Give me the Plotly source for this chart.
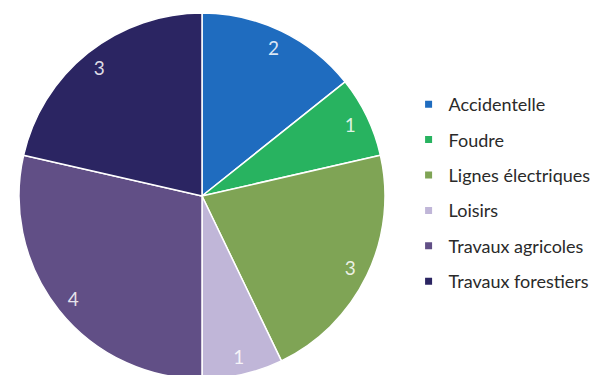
import plotly.graph_objects as go

labels = ["Accidentelle", "Foudre", "Lignes électriques", "Loisirs", "Travaux agricoles", "Travaux forestiers"]
values = [2, 1, 3, 1, 4, 3]
colors = ["#1f6cbf", "#28b360", "#7fa455", "#c0b6d8", "#614f86", "#2b2562"]

W, H = 597, 375
dom = dict(x=[11/W, 377/W], y=[4/H, 370/H])

fig = go.Figure()
# filled slices
fig.add_trace(go.Pie(
    labels=labels, values=values, sort=False, direction="clockwise", rotation=0,
    marker=dict(colors=colors, line=dict(color="white", width=1.5)),
    textinfo="none", showlegend=False, domain=dom,
))
# value labels placed in an outer ring (transparent) so they sit near the rim
fig.add_trace(go.Pie(
    labels=labels, values=values, sort=False, direction="clockwise", rotation=0,
    hole=0.8,
    marker=dict(colors=["rgba(0,0,0,0)"] * len(values), line=dict(width=0)),
    textinfo="value", textposition="inside", insidetextorientation="horizontal",
    textfont=dict(family="Lato", size=19, color="rgba(255,255,255,0.85)"),
    showlegend=False, hoverinfo="skip", domain=dom,
))
for i, (lab, col) in enumerate(zip(labels, colors)):
    fig.add_trace(go.Scatter(
        x=[None], y=[None], mode="markers", name=lab,
        marker=dict(symbol="square", size=7, color=col),
        legendgroup=f"g{i}", showlegend=True,
    ))

fig.update_layout(
    width=W, height=H,
    margin=dict(l=0, r=0, t=0, b=0),
    paper_bgcolor="white", plot_bgcolor="white",
    xaxis=dict(visible=False), yaxis=dict(visible=False),
    legend=dict(x=0.671, y=0.792, xanchor="left", yanchor="top",
                font=dict(family="Lato", size=18, color="#2a2a2a"),
                tracegroupgap=9, itemclick=False),
    font=dict(family="Lato"),
)
fig.write_html("out.html")
